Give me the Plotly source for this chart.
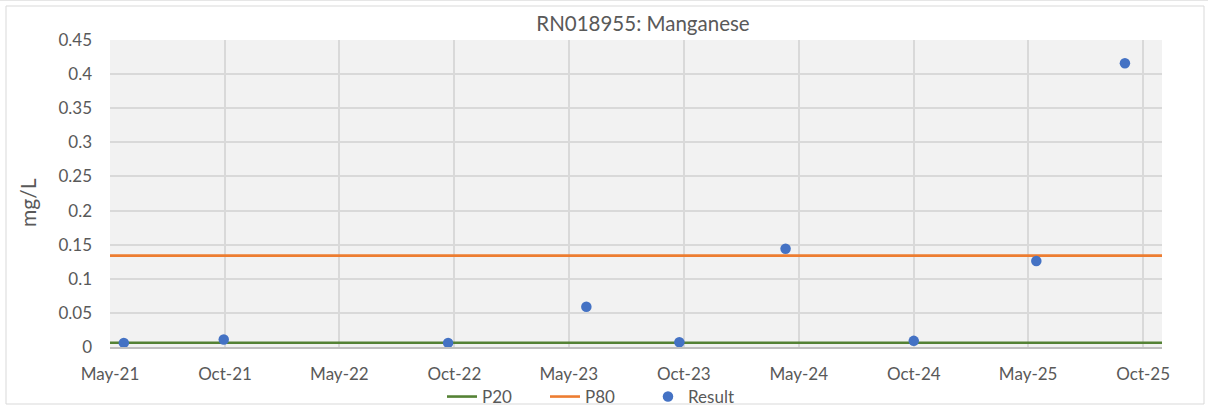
import plotly.graph_objects as go

# ---- data ----
result_dates = ["2021-05-23", "2021-10-29", "2022-10-21", "2023-05-29", "2023-10-24",
                "2024-04-10", "2024-10-31", "2025-05-14", "2025-10-02"]
result_values = [0.006, 0.011, 0.006, 0.059, 0.007, 0.144, 0.009, 0.126, 0.416]
p20_value = 0.0063
p80_value = 0.134
x_range = ["2021-05-01", "2025-11-30"]
tick_dates = ["2021-05-01", "2021-10-31", "2022-05-01", "2022-10-31", "2023-05-01",
              "2023-10-31", "2024-05-01", "2024-10-31", "2025-05-01", "2025-10-31"]
title_text = "RN018955: Manganese"
y_label = "mg/L"

W, H = 1208, 406
L, R, T, B = 110, 1162, 40, 347


def px_x(px):
    return (px - L) / (R - L)


def px_y(py):
    return (B - py) / (B - T)


FONT = "Lato, 'Open Sans', sans-serif"
GRAY = "#595959"

fig = go.Figure()
fig.add_trace(go.Scatter(x=x_range, y=[p20_value, p20_value], mode="lines", name="P20",
                         line=dict(color="#548235", width=2.6), cliponaxis=False))
fig.add_trace(go.Scatter(x=x_range, y=[p80_value, p80_value], mode="lines", name="P80",
                         line=dict(color="#ed7d31", width=2.6), cliponaxis=False))
fig.add_trace(go.Scatter(x=result_dates, y=result_values, mode="markers", name="Result",
                         marker=dict(color="#4472c4", size=10.5), cliponaxis=False))

fig.update_layout(
    width=W, height=H,
    margin=dict(l=L, r=W - R, t=T, b=H - B, pad=0, autoexpand=False),
    paper_bgcolor="white",
    plot_bgcolor="#f2f2f2",
    font=dict(family=FONT, color=GRAY, size=17),
    title=dict(text=title_text, x=px_x(643), xref="paper", xanchor="center",
               y=1 - 24 / H, yref="container", yanchor="middle",
               font=dict(size=20.5, color=GRAY, family=FONT)),
    showlegend=True,
    legend=dict(orientation="h", x=px_x(442), xanchor="left", y=px_y(397), yanchor="middle",
                font=dict(size=17, color=GRAY), bgcolor="rgba(0,0,0,0)",
                entrywidth=58, entrywidthmode="pixels", tracegroupgap=0),
    xaxis=dict(type="date", range=x_range, tickvals=tick_dates, tickformat="%b-%y",
               showgrid=True, gridcolor="#d9d9d9", gridwidth=1.5,
               showline=True, linecolor="#bfbfbf", linewidth=1.5,
               ticks="", ticklabelstandoff=11, zeroline=False,
               tickfont=dict(size=17, color=GRAY)),
    yaxis=dict(range=[0, 0.4501], dtick=0.05, tick0=0,
               showgrid=True, gridcolor="#d9d9d9", gridwidth=1.5,
               showline=False, zeroline=False, ticks="", ticklabelstandoff=17,
               tickfont=dict(size=17, color=GRAY)),
    annotations=[dict(text=y_label, x=px_x(27), y=px_y(203), xref="paper", yref="paper",
                      textangle=-90, showarrow=False, xanchor="center", yanchor="middle",
                      font=dict(size=21, color=GRAY, family=FONT))],
    shapes=[
        dict(type="rect", xref="paper", yref="paper",
             x0=px_x(6), x1=px_x(1204), y0=px_y(404), y1=px_y(6),
             line=dict(color="#d9d9d9", width=1), fillcolor="rgba(0,0,0,0)", layer="below"),
        dict(type="line", xref="paper", yref="paper",
             x0=px_x(0), x1=px_x(1208), y0=px_y(0.5), y1=px_y(0.5),
             line=dict(color="#e6e6e6", width=1)),
    ],
)

fig.write_html("out.html", config={"displayModeBar": False},
               post_script="document.body.style.margin='0';document.body.style.overflow='hidden';")
